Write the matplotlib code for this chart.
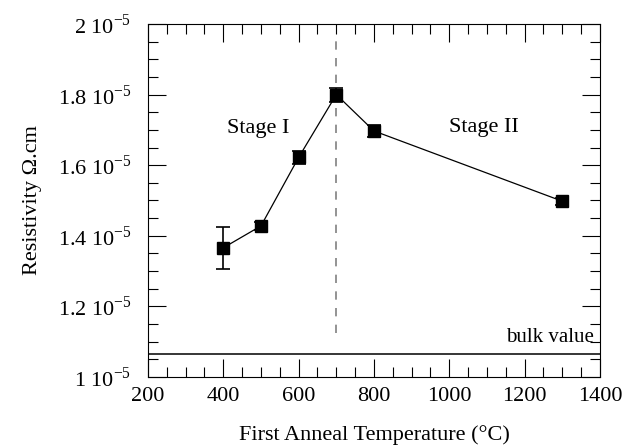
import numpy as np
import matplotlib.pyplot as plt
from matplotlib.ticker import MultipleLocator, FuncFormatter

plt.rcParams['font.family'] = ['Liberation Serif', 'DejaVu Serif']
plt.rcParams['mathtext.fontset'] = 'custom'
plt.rcParams['mathtext.rm'] = 'Liberation Serif'

# 数据
temperature = [400, 500, 600, 700, 800, 1300]
resistivity = [1.366e-5, 1.428e-5, 1.622e-5, 1.800e-5, 1.697e-5, 1.498e-5]
error = [0.06e-5, 0.012e-5, 0.018e-5, 0.02e-5, 0.018e-5, 0.01e-5]
bulk_value = 1.064e-5
stage_boundary = 700

fig = plt.figure(figsize=(6.26, 4.46), dpi=100)
ax = fig.add_axes([0.2364, 0.1547, 0.7220, 0.7915])

ax.errorbar(temperature, resistivity, yerr=error, fmt='s-', color='black',
            ms=8.5, lw=0.9, elinewidth=1.2, capsize=5, capthick=1.2)
ax.axhline(bulk_value, color='black', lw=1.1)
ax.axvline(stage_boundary, ymin=0.125, ymax=0.955, color='gray', lw=1.2,
           ls=(0, (5, 5)))

ax.text(492, 1.705e-5, 'Stage I', ha='center', va='center', fontsize=16)
ax.text(1092, 1.708e-5, 'Stage II', ha='center', va='center', fontsize=16)
ax.text(1385, 1.113e-5, 'bulk value', ha='right', va='center', fontsize=15)

ax.set_xlim(200, 1400)
ax.set_ylim(1e-5, 2e-5)
ax.xaxis.set_major_locator(MultipleLocator(200))
ax.xaxis.set_minor_locator(MultipleLocator(50))
ax.yaxis.set_major_locator(MultipleLocator(0.2e-5))
ax.yaxis.set_minor_locator(MultipleLocator(0.05e-5))


def fmt(v, pos):
    m = v * 1e5
    s = f'{m:.1f}'.rstrip('0').rstrip('.')
    return s + r' 10$^{-5}$'


ax.yaxis.set_major_formatter(FuncFormatter(fmt))
ax.tick_params(which='both', direction='in', top=True, right=True,
               labelsize=16, width=0.8)
ax.tick_params(which='major', length=13)
ax.tick_params(which='minor', length=7)
ax.tick_params(axis='x', pad=7)
ax.tick_params(axis='y', pad=12)
for s in ax.spines.values():
    s.set_linewidth(0.8)

ax.set_xlabel('First Anneal Temperature (°C)', fontsize=16)
ax.set_ylabel('Resistivity Ω.cm', fontsize=16)
ax.yaxis.set_label_coords(-0.235, 0.5)
ax.xaxis.set_label_coords(0.5, -0.135)

fig.savefig('out.png', dpi=100)
